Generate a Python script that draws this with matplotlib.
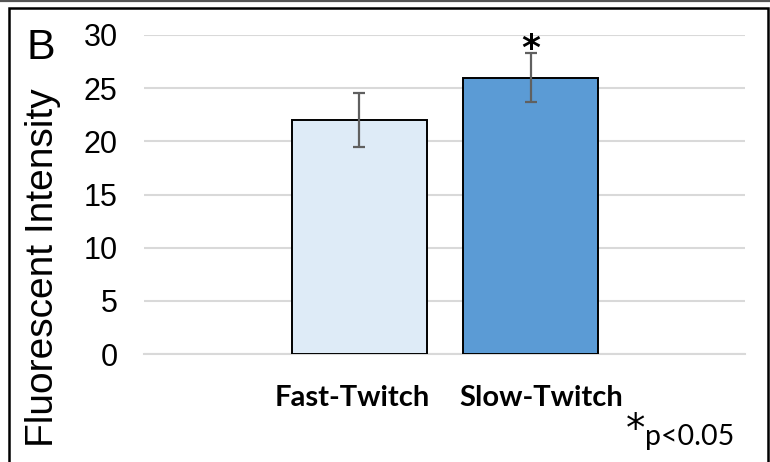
import matplotlib.pyplot as plt
from matplotlib.patches import Rectangle
from matplotlib.lines import Line2D

categories = ["Fast-Twitch", "Slow-Twitch"]
means = [22.0, 26.0]
errors = [2.5, 2.3]
colors = ["#DEEBF7", "#5B9BD5"]
yticks = [0, 5, 10, 15, 20, 25, 30]

W, H = 770, 462
fig = plt.figure(figsize=(W / 100, H / 100), dpi=100)
ax = fig.add_axes([144 / W, 1 - 354 / H, 601 / W, 319 / H])

x = list(range(len(categories)))
ax.bar(x, means, width=0.79, color=colors, edgecolor="black", linewidth=1.4, zorder=3)
ax.errorbar(x, means, yerr=errors, fmt="none", ecolor="#606060", elinewidth=1.6,
            capsize=4.5, capthick=1.6, zorder=4)

ax.set_xlim(-1.26, 2.254)
ax.set_ylim(0, 30)
ax.set_yticks(yticks)
ax.set_yticklabels([str(v) for v in yticks], family="Liberation Sans", fontsize=22)
ax.set_xticks([])
ax.grid(axis="y", color="#d9d9d9", linewidth=1.5, zorder=0)
ax.tick_params(axis="y", length=0, pad=19)
for s in ["top", "right", "left"]:
    ax.spines[s].set_visible(False)
ax.spines["bottom"].set_color("#d9d9d9")
ax.spines["bottom"].set_linewidth(1.5)

# category labels
label_x = [352, 541]
for lx, name in zip(label_x, categories):
    fig.text(lx / W, 1 - 398 / H, name, ha="center", va="center",
             family="Lato", fontweight="bold", fontsize=21)

ax.set_ylabel("Fluorescent Intensity", family="Liberation Sans", fontsize=28)
ax.yaxis.set_label_coords((61 - 144) / 601, (354 - 268) / 319)

# significance star
ax.annotate("*", xy=(1, means[1] + errors[1]), xytext=(0, -9), textcoords="offset points",
            ha="center", va="bottom", fontsize=26, fontweight="bold",
            family="DejaVu Sans", annotation_clip=False)

fig.text(41 / W, 1 - 48 / H, "B", ha="center", va="center",
         family="Liberation Sans", fontsize=31)
fig.text(636 / W, 1 - 430 / H, "*", ha="center", va="center",
         family="DejaVu Sans", fontsize=28)
fig.text(645 / W, 1 - 445 / H, "p<0.05", ha="left", va="baseline",
         family="Lato", fontsize=20.5)

# frame
fig.patches.append(Rectangle((8.5 / W, -0.02), (767.5 - 8.5) / W, 1.02 - 8 / H,
                             transform=fig.transFigure, fill=False,
                             edgecolor="black", linewidth=1.8))
fig.lines.append(Line2D([0, 1], [1 - 1 / H, 1 - 1 / H], transform=fig.transFigure,
                        color="#555555", linewidth=1.6))

fig.savefig("out.png", dpi=100)
